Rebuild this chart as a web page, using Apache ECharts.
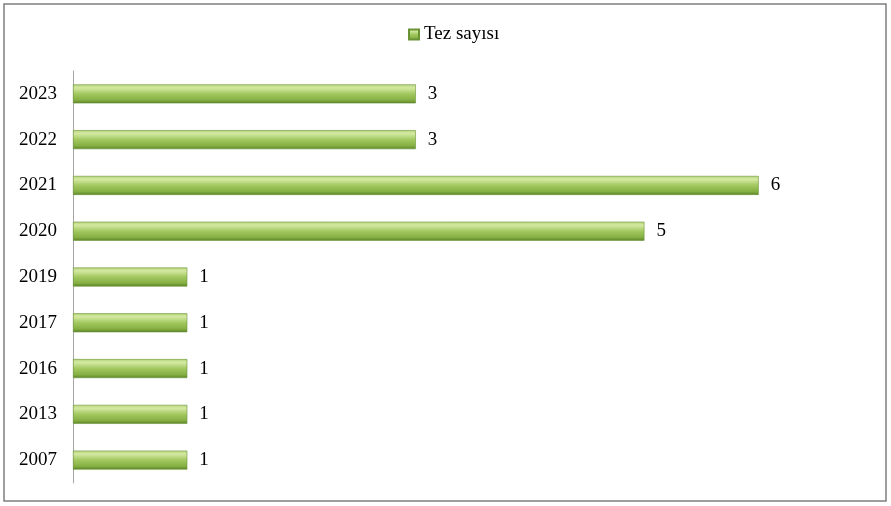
<!DOCTYPE html>
<html>
<head>
<meta charset="utf-8">
<script src="https://cdn.jsdelivr.net/npm/echarts@6/dist/echarts.min.js"></script>
<style>
html,body{margin:0;padding:0;background:#fff;}
#chart{width:891px;height:506px;}
</style>
</head>
<body>
<div id="chart"></div>
<script>
const categories = ['2023','2022','2021','2020','2019','2017','2016','2013','2007'];
const values = [3,3,6,5,1,1,1,1,1];
const seriesName = 'Tez sayısı';

const chart = echarts.init(document.getElementById('chart'), null, {renderer:'canvas'});
const barGrad = new echarts.graphic.LinearGradient(0,0,0,1,[
  {offset:0, color:'#b5d47a'},
  {offset:0.18, color:'#d4e9a2'},
  {offset:0.5, color:'#a2c860'},
  {offset:0.82, color:'#86b043'},
  {offset:1, color:'#5b8229'}
]);
chart.setOption({
  animation:false,
  graphic:[{type:'rect', shape:{x:4,y:4,width:882,height:497}, style:{fill:'none', stroke:'#7f7f7f', lineWidth:1.5}, z:-1}],
  legend:{
    data:[seriesName], top:20, left:403, icon:'rect', itemWidth:10, itemHeight:10, itemGap:4,
    textStyle:{fontFamily:'Liberation Serif', fontSize:19, color:'#000'}
  },
  grid:{left:73, right:18, top:71, bottom:23, containLabel:false},
  xAxis:{type:'value', min:0, max:7, show:false},
  yAxis:{
    type:'category', data:categories, inverse:true,
    axisLine:{show:true, lineStyle:{color:'#a6a6a6', width:1}},
    axisTick:{show:false},
    axisLabel:{fontFamily:'Liberation Serif', fontSize:19, color:'#000', margin:16}
  },
  series:[{
    name:seriesName, type:'bar', data:values, barWidth:19,
    itemStyle:{color:barGrad, borderColor:'#6a9334', borderWidth:0.6},
    label:{show:true, position:'right', distance:12, fontFamily:'Liberation Serif', fontSize:19, color:'#000'}
  }]
});
</script>
</body>
</html>
